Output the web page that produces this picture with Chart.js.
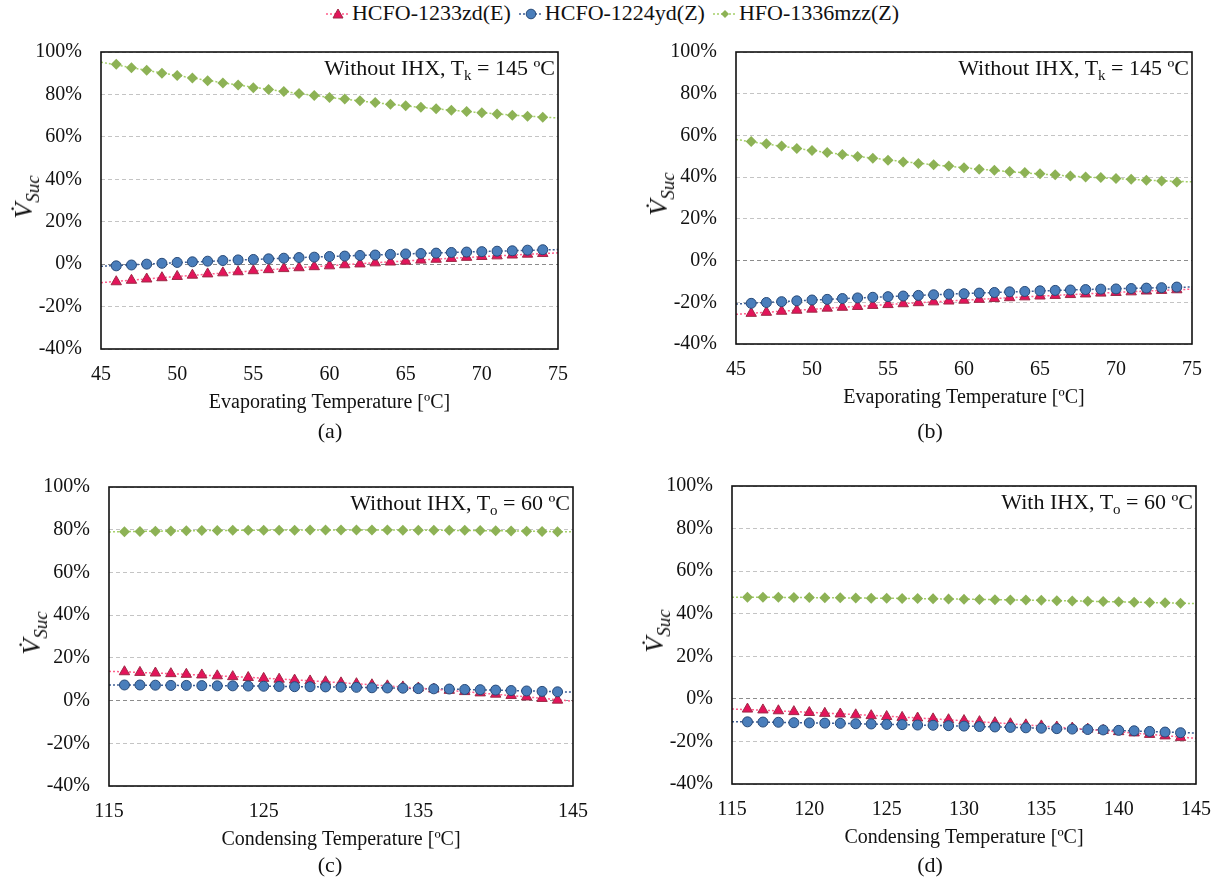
<!DOCTYPE html>
<html>
<head>
<meta charset="utf-8">
<script src="https://cdn.jsdelivr.net/npm/chart.js@4"></script>
<style>
  body { margin: 0; background: #fff; }
  #page { position: relative; width: 1225px; height: 882px; font-family: 'Liberation Serif', serif; color: #111; }
  canvas { position: absolute; }
  #legend { position: absolute; top: 0; left: 0; width: 1225px; text-align: center; font-size: 22px; line-height: 26px; }
  #legend .item { display: inline-block; margin: 0 4px; }
  #legend svg { vertical-align: -1px; margin-right: 2px; }
  .note { position: absolute; font-size: 22px; white-space: nowrap; text-align: right; line-height: 24px; }
  .note sub { font-size: 15px; vertical-align: -5px; line-height: 0; }
  .ytitle { position: absolute; font-size: 26px; font-style: italic; white-space: nowrap; transform: translate(-50%, -50%) rotate(-90deg); line-height: 28px; }
  .ytitle sub { font-size: 19px; vertical-align: -7px; line-height: 0; }
  .tag { position: absolute; font-size: 22px; transform: translateX(-50%); }
</style>
</head>
<body>
<div id="page">
  <div id="legend"></div>
  <canvas id="chartA" width="612" height="440" style="left:0;top:0"></canvas>
  <canvas id="chartB" width="613" height="440" style="left:612px;top:0"></canvas>
  <canvas id="chartC" width="612" height="442" style="left:0;top:440px"></canvas>
  <canvas id="chartD" width="613" height="442" style="left:612px;top:440px"></canvas>
</div>
<script>
// Temperaturas (eixo x)
const evapTemps = [46,47,48,49,50,51,52,53,54,55,56,57,58,59,60,61,62,63,64,65,66,67,68,69,70,71,72,73,74];
const condTemps = [116,117,118,119,120,121,122,123,124,125,126,127,128,129,130,131,132,133,134,135,136,137,138,139,140,141,142,143,144];

const seriesNames = ["HCFO-1233zd(E)", "HCFO-1224yd(Z)", "HFO-1336mzz(Z)"];
const yTicks = [-40, -20, 0, 20, 40, 60, 80, 100];

// (a) Without IHX, Tk = 145 ºC
const a1233 = [-8.3,-7.6,-7.0,-6.4,-5.8,-5.2,-4.6,-4.1,-3.6,-3.1,-2.6,-2.1,-1.7,-1.2,-0.8,-0.3,0.1,0.6,1.0,1.4,1.9,2.3,2.7,3.2,3.6,3.9,4.3,4.7,5.0];
const a1224 = [-0.8,-0.4,0.0,0.4,0.8,1.1,1.4,1.7,2.0,2.2,2.5,2.8,3.1,3.3,3.6,3.8,4.1,4.3,4.6,4.8,5.0,5.2,5.5,5.7,5.9,6.1,6.3,6.6,6.8];
const a1336 = [94.2,92.6,91.4,90.0,88.9,87.7,86.5,85.4,84.4,83.2,82.3,81.4,80.4,79.5,78.6,77.8,77.0,76.2,75.4,74.7,74.0,73.3,72.6,72.0,71.4,70.8,70.2,69.7,69.2];

// (b) Without IHX, Tk = 145 ºC
const b1233 = [-25.3,-24.8,-24.3,-23.8,-23.3,-22.8,-22.4,-22.0,-21.5,-21.1,-20.7,-20.2,-19.8,-19.4,-19.0,-18.6,-18.2,-17.8,-17.4,-17.0,-16.7,-16.3,-16.0,-15.6,-15.3,-15.0,-14.6,-14.3,-14.0];
const b1224 = [-20.5,-20.1,-19.7,-19.3,-18.9,-18.6,-18.2,-17.9,-17.6,-17.3,-17.0,-16.7,-16.4,-16.1,-15.9,-15.6,-15.3,-15.0,-14.8,-14.5,-14.3,-14.1,-13.9,-13.7,-13.6,-13.4,-13.2,-13.0,-12.7];
const b1336 = [57.1,56.0,54.9,53.7,52.8,51.8,50.9,49.9,49.1,48.1,47.3,46.5,45.9,45.3,44.5,43.8,43.3,42.7,42.2,41.6,41.1,40.6,40.1,39.8,39.3,39.0,38.5,38.2,37.7];

// (c) Without IHX, To = 60 ºC
const c1233 = [13.5,13.2,12.9,12.6,12.3,12.0,11.6,11.2,10.8,10.4,10.0,9.6,9.2,8.8,8.3,7.9,7.4,6.9,6.4,5.9,5.4,4.8,4.2,3.6,3.0,2.4,1.7,1.0,0.2];
const c1224 = [7.3,7.3,7.2,7.1,7.1,7.0,6.9,6.9,6.8,6.7,6.6,6.5,6.5,6.4,6.3,6.2,6.0,5.9,5.8,5.6,5.5,5.4,5.2,5.1,4.9,4.7,4.5,4.3,4.1];
const c1336 = [79.1,79.2,79.3,79.4,79.5,79.6,79.6,79.7,79.7,79.8,79.8,79.8,79.9,79.9,79.9,79.9,79.9,79.9,79.8,79.8,79.8,79.7,79.7,79.6,79.5,79.4,79.3,79.2,79.1];

// (d) With IHX, To = 60 ºC
const d1233 = [-4.8,-5.2,-5.6,-6.0,-6.4,-6.8,-7.1,-7.5,-7.9,-8.3,-8.7,-9.0,-9.4,-9.8,-10.2,-10.7,-11.2,-11.7,-12.2,-12.7,-13.2,-13.7,-14.2,-14.8,-15.4,-16.0,-16.7,-17.4,-18.2];
const d1224 = [-10.8,-10.9,-11.0,-11.2,-11.3,-11.4,-11.5,-11.7,-11.8,-12.0,-12.1,-12.3,-12.4,-12.6,-12.8,-13.0,-13.2,-13.4,-13.6,-13.8,-14.0,-14.2,-14.4,-14.6,-14.8,-15.0,-15.3,-15.6,-15.9];
const d1336 = [47.7,47.7,47.7,47.6,47.6,47.5,47.5,47.4,47.3,47.3,47.2,47.1,47.0,46.9,46.8,46.7,46.6,46.5,46.4,46.3,46.1,46.0,45.9,45.7,45.6,45.4,45.3,45.1,44.9];

// estilos de cada fluido
const styles = [
  { pointStyle: 'triangle', radius: 6, fill: '#E3145A', border: '#9E2A47', trend: '#FF5F8C' },
  { pointStyle: 'circle', radius: 5, fill: '#4A7EBB', border: '#284A78', trend: '#3F5F95' },
  { pointStyle: 'rectRot', radius: 5.5, fill: '#8DB255', border: '#8DB255', trend: '#A5D06A' }
];

// linha de tendência polinomial (ordem 2), como no Excel
function trendline(xs, ys, x0, x1) {
  let s = [0,0,0,0,0], t = [0,0,0];
  xs.forEach((x, i) => {
    const u = x - xs[0];
    for (let k = 0; k < 5; k++) s[k] += Math.pow(u, k);
    for (let k = 0; k < 3; k++) t[k] += ys[i] * Math.pow(u, k);
  });
  const m = [[s[0],s[1],s[2],t[0]],[s[1],s[2],s[3],t[1]],[s[2],s[3],s[4],t[2]]];
  for (let i = 0; i < 3; i++) {
    for (let j = i + 1; j < 3; j++) {
      const f = m[j][i] / m[i][i];
      for (let k = i; k < 4; k++) m[j][k] -= f * m[i][k];
    }
  }
  const c = [0,0,0];
  for (let i = 2; i >= 0; i--) {
    let v = m[i][3];
    for (let k = i + 1; k < 3; k++) v -= m[i][k] * c[k];
    c[i] = v / m[i][i];
  }
  const pts = [];
  for (let x = x0; x <= x1 + 1e-9; x += 0.5) {
    const u = x - xs[0];
    pts.push({ x: x, y: c[0] + c[1] * u + c[2] * u * u });
  }
  return pts;
}

// moldura preta em volta da área do gráfico
const framePlugin = {
  id: 'frame',
  afterDraw(chart) {
    const a = chart.chartArea, ctx = chart.ctx;
    ctx.save();
    ctx.strokeStyle = '#111';
    ctx.lineWidth = 1.6;
    ctx.strokeRect(a.left, a.top, a.right - a.left, a.bottom - a.top);
    ctx.restore();
  }
};

const font = { family: "'Liberation Serif', serif", size: 20 };

function makePanel(id, box, area, temps, values, xMin, xMax, xStep, xLabel, note, tag) {
  const datasets = [];
  values.forEach((vals, i) => {
    datasets.push({
      label: seriesNames[i] + ' trend',
      data: trendline(temps, vals, xMin, xMax),
      showLine: true,
      borderColor: styles[i].trend,
      borderWidth: 1.5,
      borderDash: [2, 2],
      pointRadius: 0,
      order: 10 + i
    });
  });
  values.forEach((vals, i) => {
    datasets.push({
      label: seriesNames[i],
      data: temps.map((t, k) => ({ x: t, y: vals[k] })),
      showLine: false,
      pointStyle: styles[i].pointStyle,
      pointRadius: styles[i].radius,
      backgroundColor: styles[i].fill,
      borderColor: styles[i].border,
      pointBorderWidth: i === 2 ? 0 : 1,
      order: 5 - i
    });
  });

  new Chart(document.getElementById(id), {
    type: 'scatter',
    data: { datasets: datasets },
    options: {
      responsive: false,
      animation: false,
      events: [],
      layout: {
        padding: {
          left: 0,
          top: area.t - box.y,
          right: box.x + box.w - area.r,
          bottom: box.y + box.h - area.b - 66
        }
      },
      plugins: { legend: { display: false }, tooltip: { enabled: false } },
      scales: {
        x: {
          type: 'linear', min: xMin, max: xMax,
          afterFit: s => { s.height = 66; },
          ticks: { stepSize: xStep, padding: 14, color: '#111', font: font },
          grid: { display: false, drawTicks: false },
          border: { display: false },
          title: { display: true, text: xLabel, color: '#111', font: font, padding: { top: 0, bottom: 0 } }
        },
        y: {
          min: -40, max: 100,
          afterFit: s => { s.width = area.l - box.x; },
          afterBuildTicks: s => { s.ticks = yTicks.map(v => ({ value: v })); },
          ticks: { padding: 19, color: '#111', font: font, callback: v => v + '%' },
          grid: {
            drawTicks: false,
            color: c => (c.tick && c.tick.value === 0) ? '#8C8C8C' : '#C4C4C4',
            lineWidth: 1
          },
          border: { display: false, dash: [4, 3] }
        }
      }
    },
    plugins: [framePlugin]
  });

  const page = document.getElementById('page');
  const n = document.createElement('div');
  n.className = 'note';
  n.innerHTML = note;
  n.style.right = (1225 - area.r + 3) + 'px';
  n.style.top = (area.t + 4) + 'px';
  page.appendChild(n);

  const yt = document.createElement('div');
  yt.className = 'ytitle';
  yt.innerHTML = 'V\u0307<sub>Suc</sub>';
  yt.style.left = (area.l - 77) + 'px';
  yt.style.top = ((area.t + area.b) / 2 - 4) + 'px';
  page.appendChild(yt);

  const tg = document.createElement('div');
  tg.className = 'tag';
  tg.textContent = tag.text;
  tg.style.left = tag.x + 'px';
  tg.style.top = tag.y + 'px';
  page.appendChild(tg);
}

document.addEventListener("DOMContentLoaded", function() {
  // legenda comum
  const legend = document.getElementById('legend');
  const markers = [
    '<polygon points="12,2 17,11 7,11" fill="#E3145A" stroke="#9E2A47" stroke-width="1"/>',
    '<circle cx="12" cy="7" r="4.8" fill="#4A7EBB" stroke="#284A78" stroke-width="1"/>',
    '<polygon points="12,3 16,7 12,11 8,7" fill="#8DB255"/>'
  ];
  seriesNames.forEach((name, i) => {
    legend.innerHTML += '<span class="item"><svg width="24" height="14">' +
      '<line x1="0" y1="7" x2="24" y2="7" stroke="' + styles[i].trend + '" stroke-width="1.5" stroke-dasharray="2,2"/>' +
      markers[i] + '</svg>' + name + '</span>';
  });

  makePanel('chartA', { x: 0, y: 0, w: 612, h: 440 }, { l: 101, r: 558, t: 52, b: 349 },
    evapTemps, [a1233, a1224, a1336], 45, 75, 5, 'Evaporating Temperature [ºC]',
    'Without IHX, T<sub>k</sub> = 145 ºC', { text: '(a)', x: 330, y: 418 });
  makePanel('chartB', { x: 612, y: 0, w: 613, h: 440 }, { l: 736, r: 1192, t: 52, b: 344 },
    evapTemps, [b1233, b1224, b1336], 45, 75, 5, 'Evaporating Temperature [ºC]',
    'Without IHX, T<sub>k</sub> = 145 ºC', { text: '(b)', x: 930, y: 418 });
  makePanel('chartC', { x: 0, y: 440, w: 612, h: 442 }, { l: 109, r: 573, t: 487, b: 786 },
    condTemps, [c1233, c1224, c1336], 115, 145, 10, 'Condensing Temperature [ºC]',
    'Without IHX, T<sub>o</sub> = 60 ºC', { text: '(c)', x: 330, y: 852 });
  makePanel('chartD', { x: 612, y: 440, w: 613, h: 442 }, { l: 732, r: 1196, t: 486, b: 784 },
    condTemps, [d1233, d1224, d1336], 115, 145, 5, 'Condensing Temperature [ºC]',
    'With IHX, T<sub>o</sub> = 60 ºC', { text: '(d)', x: 930, y: 852 });
});
</script>
</body>
</html>
